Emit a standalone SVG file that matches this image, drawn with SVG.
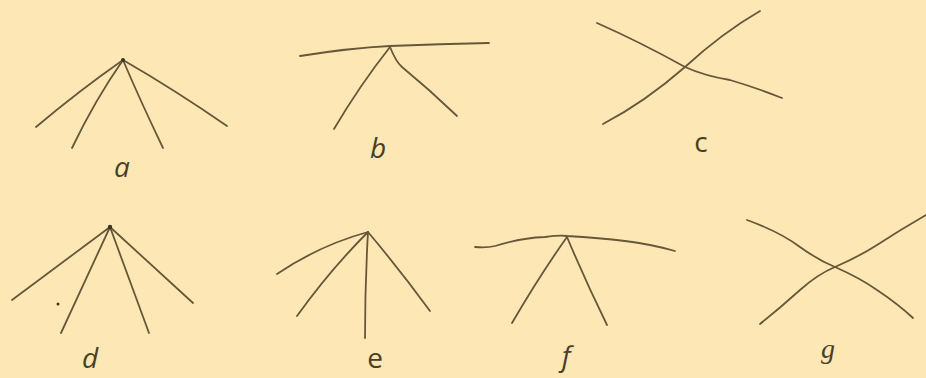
<svg xmlns="http://www.w3.org/2000/svg" width="926" height="378" viewBox="0 0 926 378">
<style>
.ln{fill:none;stroke:#66573a;stroke-width:1.8;stroke-linecap:round;stroke-linejoin:round}
.lb{font-family:"Open Sans","Liberation Sans",sans-serif;font-size:28px;fill:#4a3e28;text-anchor:middle}
.it{font-style:italic}
.dot{fill:#3f3422}
</style>
<rect width="926" height="378" fill="#fde8b5"/>
<g id="a">
<g class="conn">
<path class="ln" d="M123 60 Q80 90 36 127"/>
<path class="ln" d="M123 60 Q95 100 72 148"/>
<path class="ln" d="M123 60 Q140 100 163 148"/>
<path class="ln" d="M123 60 Q175 90 227 126"/>
</g>
<circle class="dot" cx="123" cy="60" r="2"/>
<text class="lb it" x="122" y="177">a</text>
</g>
<g id="b">
<g class="conn">
<path class="ln" d="M300 56 Q350 48 390 46 Q440 44 489 43"/>
<path class="ln" d="M390 47 Q360 85 334 129"/>
<path class="ln" d="M390 47 Q396 62 402 67 Q430 90 457 116"/>
</g>
<text class="lb it" x="378" y="158">b</text>
</g>
<g id="c">
<g class="conn">
<path class="ln" d="M597 23 Q640 42 685 67 Q705 76 730 80 Q757 88 782 98"/>
<path class="ln" d="M603 124 Q645 102 685 67 Q722 33 760 11"/>
</g>
<text class="lb" x="701" y="152">c</text>
</g>
<g id="d">
<g class="conn">
<path class="ln" d="M110 227 L12 300"/>
<path class="ln" d="M110 227 L61 333"/>
<path class="ln" d="M110 227 L149 333"/>
<path class="ln" d="M110 227 L193 303"/>
</g>
<circle class="dot" cx="110" cy="227" r="2.2"/>
<circle class="dot" cx="58" cy="304" r="1.5"/>
<text class="lb it" x="90" y="368">d</text>
</g>
<g id="e">
<g class="conn">
<path class="ln" d="M368 232 Q320 245 277 274"/>
<path class="ln" d="M368 232 Q330 270 297 316"/>
<path class="ln" d="M368 232 Q365 285 365 338"/>
<path class="ln" d="M368 232 Q400 270 430 311"/>
</g>
<text class="lb" x="375" y="368">e</text>
</g>
<g id="f">
<g class="conn">
<path class="ln" d="M475 247 Q487 248 495 246 Q520 238 545 237 Q560 235 567 236 Q600 238 625 241 Q650 244 675 251"/>
<path class="ln" d="M567 237 Q540 275 512 323"/>
<path class="ln" d="M567 237 Q585 280 607 325"/>
</g>
<text class="lb it" x="566" y="366">f</text>
</g>
<g id="g">
<g class="conn">
<path class="ln" d="M747 220 Q780 232 800 247 Q818 260 835 267 Q860 278 877 290 Q898 304 913 318"/>
<path class="ln" d="M760 324 Q780 308 800 290 Q818 274 835 267 Q860 256 877 245 Q900 230 926 215"/>
</g>
<text class="lb" x="828" y="358" style="font-family:'Liberation Serif',serif;font-style:italic">g</text>
</g>
</svg>
